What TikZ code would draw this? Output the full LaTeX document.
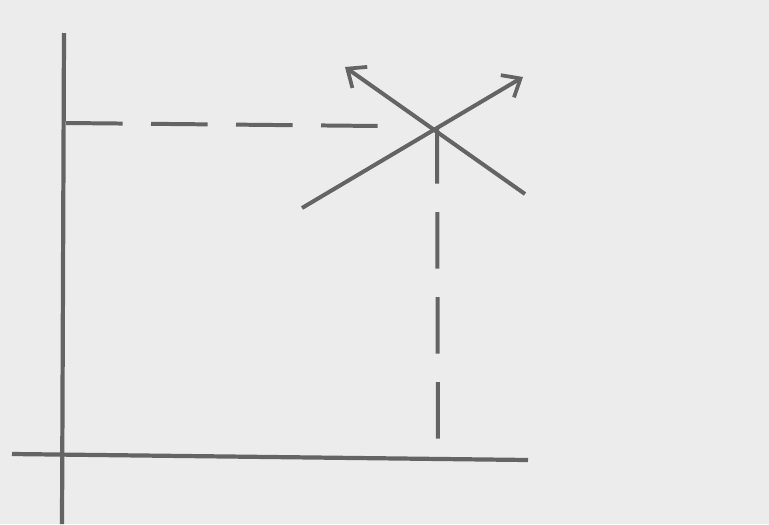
\documentclass[tikz,border=0pt]{standalone}
\usepackage{tikz}
\usetikzlibrary{arrows.meta,calc}

\definecolor{paper}{RGB}{236,236,236}
\definecolor{pencil}{RGB}{100,100,100}

\begin{document}
\begin{tikzpicture}[x=0.03cm,y=-0.03cm,>={Straight Barb[length=13pt,width=22pt,line width=3.2pt]},
  axisline/.style={pencil,line width=3.6pt},
  guideline/.style={pencil,line width=3.4pt,dash pattern=on 1.7cm off 0.85cm},
  vecline/.style={pencil,line width=3.4pt,->}]
\fill[paper] (0,0) rectangle (769,524);
\useasboundingbox (0,0) rectangle (769,524);
\coordinate (ytop) at (64,33);
\coordinate (ybot) at (62,524);
\coordinate (xleft) at (12,454);
\coordinate (xright) at (528,460);
\coordinate (P) at (437,127);
\coordinate (Py) at (66,123);
\coordinate (Pl) at (379,126);
\coordinate (Px) at (438,445);
\coordinate (tailA) at (525,194);
\coordinate (tipA) at (345,67);
\coordinate (tailB) at (302,208);
\coordinate (tipB) at (523,77);
\draw[axisline] (ytop) -- (ybot);
\draw[axisline] (xleft) -- (xright);
\draw[guideline] (Py) -- (Pl);
\draw[guideline] (P) -- (Px);
\draw[vecline] (tailA) -- (tipA);
\draw[vecline] (tailB) -- (tipB);
\end{tikzpicture}
\end{document}
